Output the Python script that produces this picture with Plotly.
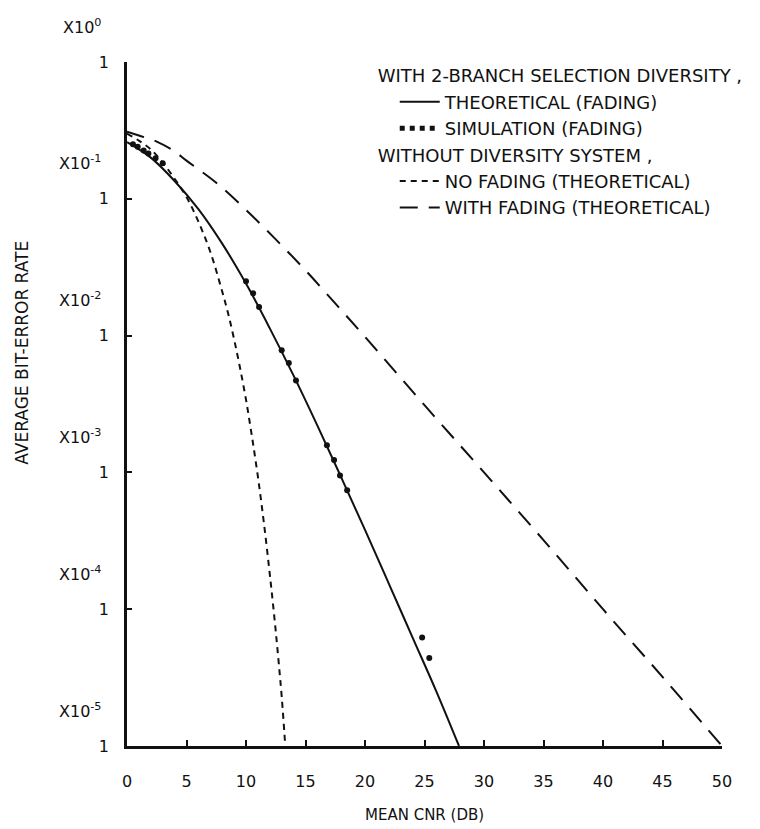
import plotly.graph_objects as go

# ---- data ----
snr_sel = [0, 2, 4, 6, 8, 10, 12, 14, 16, 18, 20, 22, 24, 26, 27.9]
ber_sel = [0.26, 0.20, 0.135, 0.084, 0.047, 0.024, 0.0113, 0.0051, 0.0022,
           0.00092, 0.00038, 0.000154, 0.000062, 0.000025, 0.00001]

snr_sim = [0.5, 0.9, 1.4, 1.8, 2.4, 3.0, 10.0, 10.6, 11.1, 13.0, 13.6, 14.2,
           16.8, 17.4, 17.9, 18.5, 24.8, 25.4]
ber_sim = [0.25, 0.24, 0.225, 0.214, 0.198, 0.182, 0.025, 0.0204, 0.0162,
           0.0078, 0.0063, 0.0047, 0.00158, 0.00123, 0.00095, 0.00074,
           0.000062, 0.000044]

snr_nofade = [0, 1, 2, 3, 4, 5, 6, 7, 8, 8.5, 9, 9.5, 10, 10.5, 11, 11.5,
              12, 12.25, 12.5, 12.75, 13, 13.3]
ber_nofade = [0.30, 0.266, 0.23, 0.184, 0.14, 0.103, 0.068, 0.041, 0.021,
              0.0145, 0.0094, 0.0058, 0.0034, 0.00183, 0.00093, 0.00043,
              0.00018, 0.000113, 0.000069, 0.0000405, 0.000023, 0.00001]

snr_fade = [0, 1, 2.5, 4, 5, 7.5, 10, 12.5, 15, 17.5, 20, 25, 30, 35, 40, 45, 50]
ber_fade = [0.31, 0.29, 0.262, 0.222, 0.19, 0.131, 0.083, 0.0505, 0.03,
            0.0172, 0.0098, 0.0031, 0.001, 0.00032, 0.0001, 0.000032, 0.00001]

x_ticks = [0, 5, 10, 15, 20, 25, 30, 35, 40, 45, 50]
y_ticks = [1, 1e-1, 1e-2, 1e-3, 1e-4, 1e-5]
y_tick_text = ["1", "1", "1", "1", "1", "1"]
y_exp_text = ["X10<sup>0</sup>", "X10<sup>-1</sup>", "X10<sup>-2</sup>",
              "X10<sup>-3</sup>", "X10<sup>-4</sup>", "X10<sup>-5</sup>"]
y_exp_pos = [0, -1, -2, -3, -4, -5]

group1 = "WITH 2-BRANCH SELECTION DIVERSITY ,"
group2 = "WITHOUT DIVERSITY SYSTEM ,"

FONT = "DejaVu Sans, Liberation Sans, Arial, sans-serif"
BLACK = "#111111"
LEG_FONT = dict(size=18, family=FONT, color=BLACK)

fig = go.Figure()

fig.add_trace(go.Scatter(
    x=snr_sel, y=ber_sel, mode="lines", name="THEORETICAL (FADING)",
    line=dict(color=BLACK, width=2), line_shape="spline",
    legendgroup="g1", legendgrouptitle=dict(text=group1, font=LEG_FONT)))

fig.add_trace(go.Scatter(
    x=snr_sim, y=ber_sim, mode="markers", showlegend=False, legendgroup="g1",
    marker=dict(color=BLACK, size=6)))
fig.add_trace(go.Scatter(
    x=[None], y=[None], mode="lines", name="SIMULATION (FADING)", legendgroup="g1",
    line=dict(color=BLACK, width=5, dash="dot")))

fig.add_trace(go.Scatter(
    x=snr_nofade, y=ber_nofade, mode="lines", name="NO FADING (THEORETICAL)",
    line=dict(color=BLACK, width=2, dash="6px,5px"), line_shape="spline",
    legendgroup="g2", legendgrouptitle=dict(text=group2, font=LEG_FONT)))

fig.add_trace(go.Scatter(
    x=snr_fade, y=ber_fade, mode="lines", name="WITH FADING (THEORETICAL)",
    line=dict(color=BLACK, width=2, dash="18px,11px"), line_shape="spline",
    legendgroup="g2"))

annotations = []
for txt, pos in zip(y_exp_text, y_exp_pos):
    annotations.append(dict(
        text=txt, xref="paper", yref="y", x=-0.040, y=pos, yshift=36,
        xanchor="right", yanchor="middle", showarrow=False,
        font=dict(size=16, family=FONT, color=BLACK)))

annotations.append(dict(
    text="MEAN CNR (DB)", xref="paper", yref="paper", x=0.5, y=-0.101,
    xanchor="center", yanchor="middle", showarrow=False,
    font=dict(size=15, family=FONT, color=BLACK)))
annotations.append(dict(
    text="AVERAGE BIT-ERROR RATE", xref="paper", yref="paper", x=-0.1765, y=0.575,
    xanchor="center", yanchor="middle", textangle=-90, showarrow=False,
    font=dict(size=17, family=FONT, color=BLACK)))

# page body has an 8px margin: shift the figure up/left to compensate
fig.update_layout(
    width=760, height=829,
    margin=dict(l=119, r=46, t=54, b=91),
    paper_bgcolor="white", plot_bgcolor="white",
    font=dict(family=FONT, size=16, color=BLACK),
    showlegend=True,
    legend=dict(x=0.413, y=1.007, xanchor="left", yanchor="top",
                bgcolor="rgba(0,0,0,0)", font=LEG_FONT,
                itemwidth=40, tracegroupgap=0, traceorder="grouped",
                indentation=22),
    annotations=annotations,
    xaxis=dict(range=[0, 50], tickvals=x_ticks, ticks="inside", ticklen=6,
               tickwidth=1.5, tickcolor=BLACK, showline=True, linewidth=2.5,
               linecolor=BLACK, showgrid=False, zeroline=False,
               ticklabelstandoff=19, tickfont=dict(size=16, family=FONT)),
    yaxis=dict(type="log", range=[-5, 0], tickvals=y_ticks, ticktext=y_tick_text,
               ticks="inside", ticklen=5, tickwidth=1.5, tickcolor=BLACK,
               showline=True, linewidth=2.5, linecolor=BLACK, showgrid=False,
               zeroline=False, ticklabelstandoff=12, tickfont=dict(size=16, family=FONT)),
)

fig.write_html("out.html")
